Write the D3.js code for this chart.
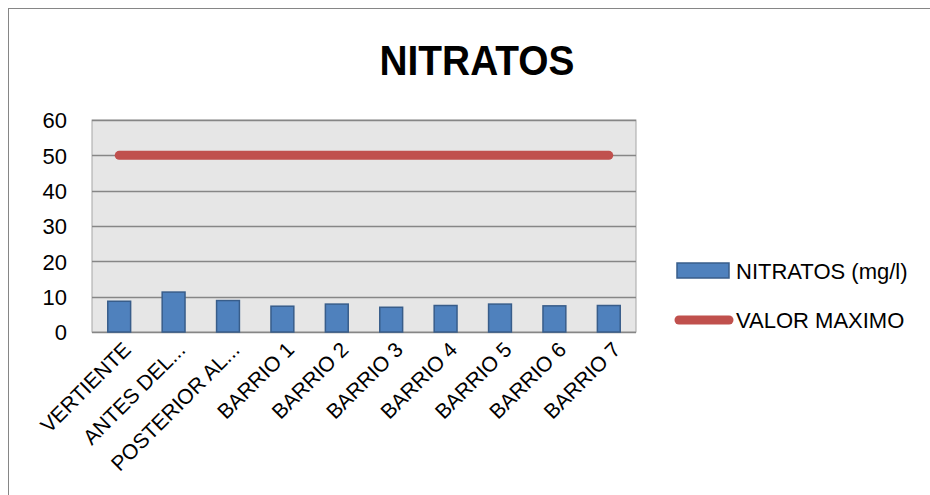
<!DOCTYPE html>
<html><head><meta charset="utf-8">
<script src="https://cdn.jsdelivr.net/npm/d3@7"></script>
<style>body{margin:0;background:#fff}svg{display:block}</style>
</head><body>
<svg id="c" width="930" height="495"></svg>
<script>
const categories = ["VERTIENTE","ANTES DEL...","POSTERIOR AL...","BARRIO 1","BARRIO 2","BARRIO 3","BARRIO 4","BARRIO 5","BARRIO 6","BARRIO 7"];
const nitratos = [8.7, 11.3, 8.9, 7.3, 7.9, 7.0, 7.5, 7.9, 7.4, 7.5];
const valorMaximo = [50, 50, 50, 50, 50, 50, 50, 50, 50, 50];
const yTicks = [0, 10, 20, 30, 40, 50, 60];
const seriesNames = ["NITRATOS (mg/l)", "VALOR MAXIMO"];
const title = "NITRATOS";

const svg = d3.select("#c");
const font = "'Liberation Sans', Arial, sans-serif";
const m = {left: 92, top: 120, right: 636, bottom: 332};

// outer chart border
svg.append("rect").attr("x", 8.5).attr("y", 8.5).attr("width", 1000).attr("height", 1000)
  .attr("fill", "#fff").attr("stroke", "#868686").attr("stroke-width", 1);

const x = d3.scaleBand().domain(categories).range([m.left, m.right]).paddingInner(0.58).paddingOuter(0.29);
const y = d3.scaleLinear().domain([0, 60]).range([m.bottom, m.top]);

// plot area
svg.append("rect").attr("x", m.left).attr("y", m.top).attr("width", m.right - m.left).attr("height", m.bottom - m.top)
  .attr("fill", "#e6e6e6").attr("stroke", "#a6a6a6");

// gridlines
svg.append("g").selectAll("line").data(yTicks).join("line")
  .attr("x1", m.left).attr("x2", m.right)
  .attr("y1", d => Math.round(y(d)) + 0.5).attr("y2", d => Math.round(y(d)) + 0.5)
  .attr("stroke", "#868686").attr("stroke-width", 1.5);

// y axis labels
const yAxis = d3.axisLeft(y).tickValues(yTicks).tickSize(0).tickPadding(0);
const ga = svg.append("g").attr("transform", `translate(67,0)`).call(yAxis);
ga.select(".domain").remove();
ga.selectAll("text").attr("font-family", font).attr("font-size", 22).attr("fill", "#000").attr("dy", "0.35em");

// bars
svg.append("g").selectAll("rect").data(nitratos).join("rect")
  .attr("x", (d, i) => x(categories[i]))
  .attr("y", d => y(d))
  .attr("width", x.bandwidth())
  .attr("height", d => y(0) - y(d))
  .attr("fill", "#4f81bd").attr("stroke", "#385d8a").attr("stroke-width", 1.5);

// valor maximo line
const line = d3.line().x((d, i) => x(categories[i]) + x.bandwidth() / 2).y(d => y(d));
svg.append("path").datum(valorMaximo).attr("d", line)
  .attr("fill", "none").attr("stroke", "#c0504d").attr("stroke-width", 9).attr("stroke-linecap", "round");

// x labels
const xAxis = d3.axisBottom(x).tickSize(0).tickPadding(0);
const gx = svg.append("g").attr("transform", `translate(0,${m.bottom})`).call(xAxis);
gx.select(".domain").remove();
gx.selectAll("text").attr("font-family", font).attr("font-size", 21).attr("fill", "#000")
  .attr("text-anchor", "end").attr("dy", null).attr("y", 0)
  .attr("transform", "translate(13,19) rotate(-45)");

// title
svg.append("text").attr("x", 477).attr("y", 75).attr("text-anchor", "middle")
  .attr("font-family", font).attr("font-weight", "bold").attr("font-size", 42)
  .attr("textLength", 195).attr("lengthAdjust", "spacingAndGlyphs").text(title);

// legend
const lg = svg.append("g");
lg.append("rect").attr("x", 677).attr("y", 263).attr("width", 52).attr("height", 15)
  .attr("fill", "#4f81bd").attr("stroke", "#385d8a").attr("stroke-width", 1.5);
lg.append("line").attr("x1", 679).attr("x2", 729).attr("y1", 320).attr("y2", 320)
  .attr("stroke", "#c0504d").attr("stroke-width", 9).attr("stroke-linecap", "round");
lg.selectAll("text").data(seriesNames).join("text")
  .attr("x", 736).attr("y", (d, i) => 271 + i * 49).attr("dy", "0.35em")
  .attr("font-family", font).attr("font-size", 22).attr("fill", "#000").text(d => d);
</script>
</body></html>
